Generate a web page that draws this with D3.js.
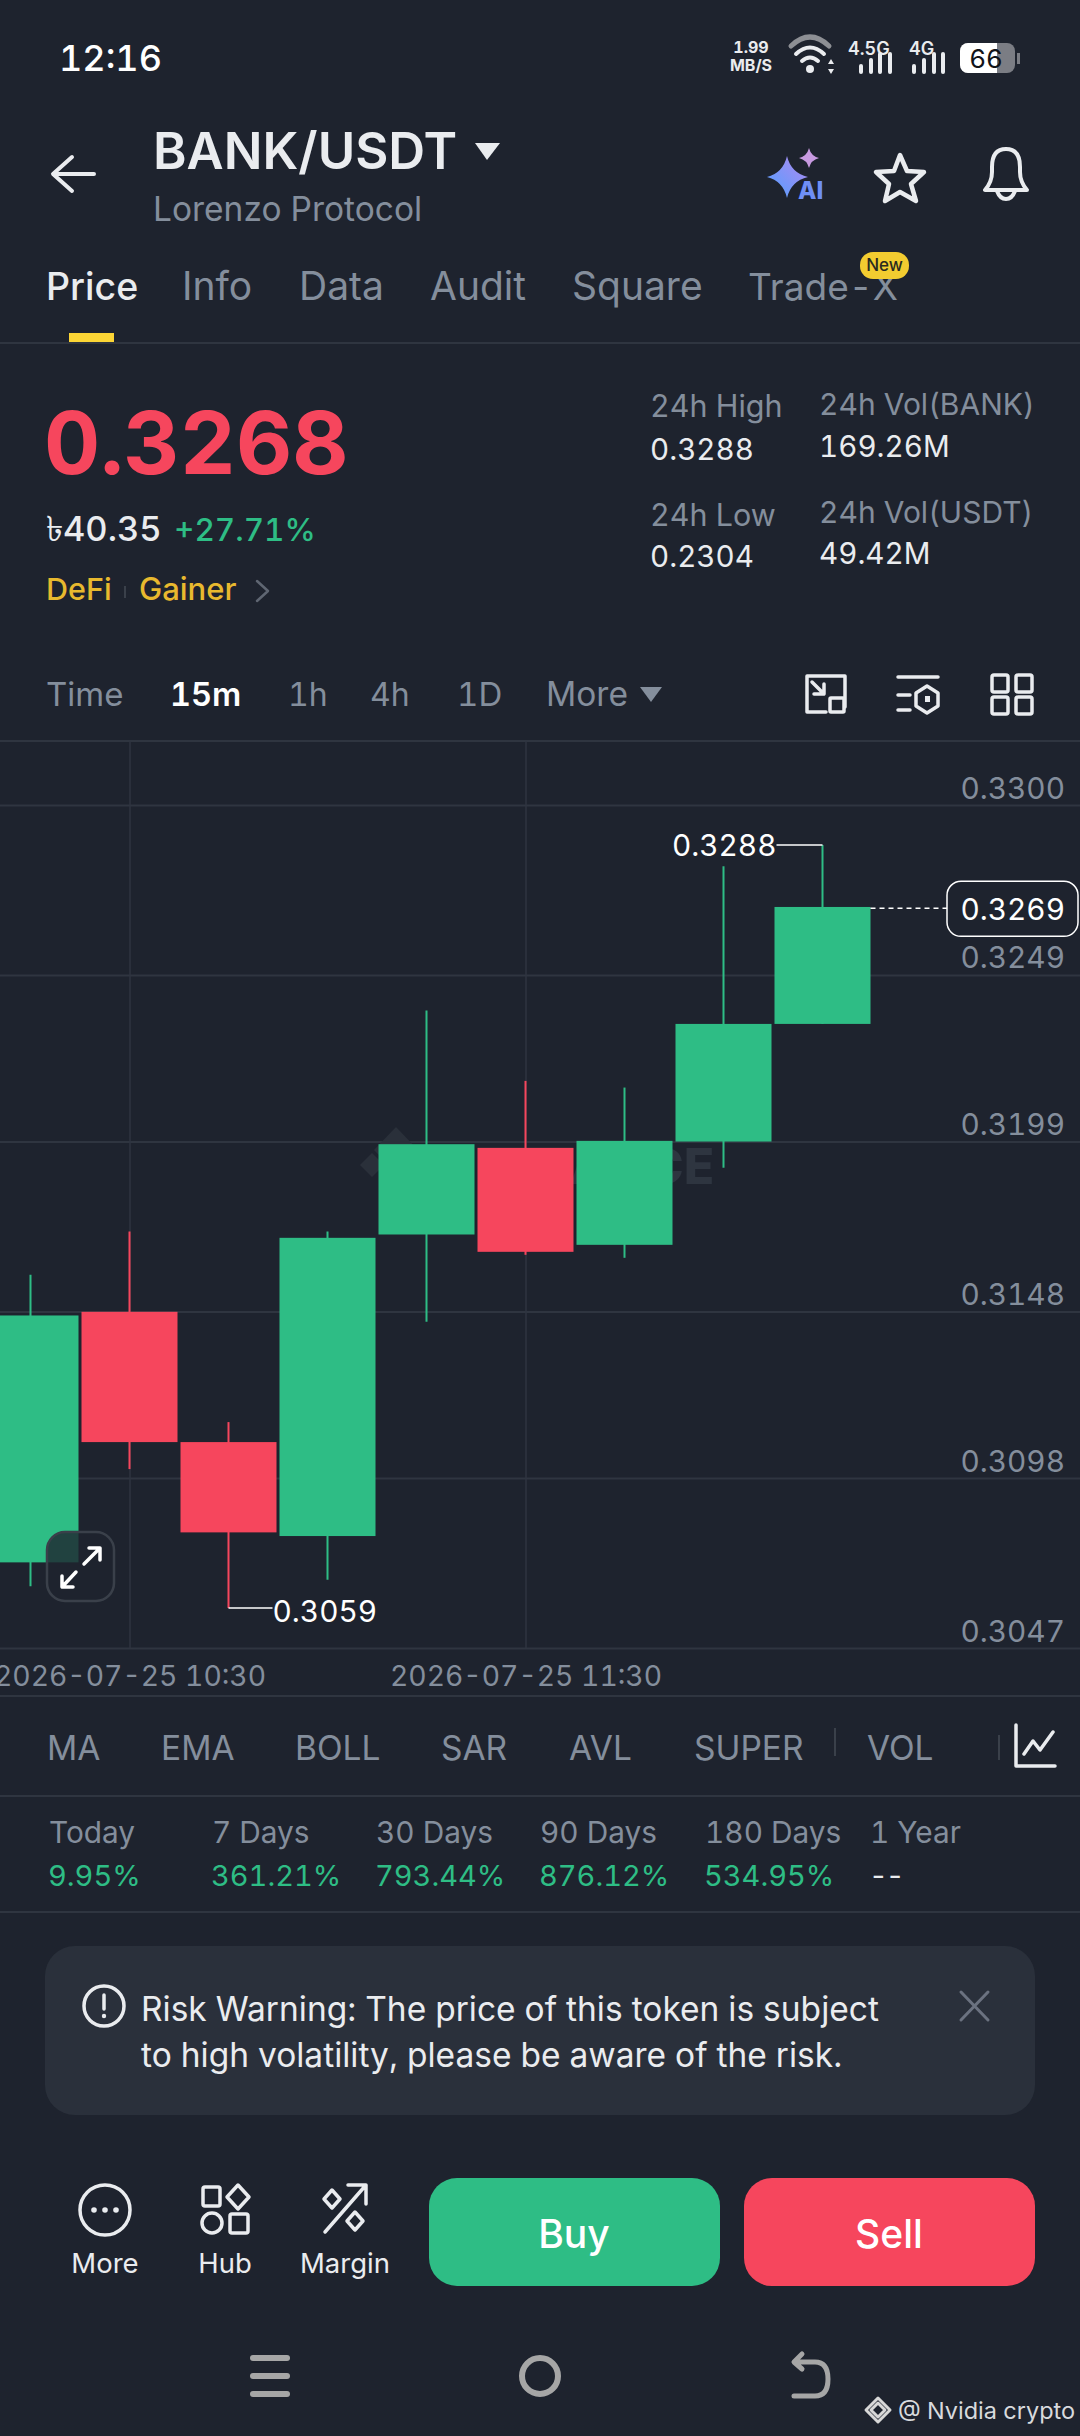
<!DOCTYPE html>
<html>
<head>
<meta charset="utf-8">
<script src="https://cdnjs.cloudflare.com/ajax/libs/d3/7.8.5/d3.min.js"></script>
<style>
  html, body { margin: 0; padding: 0; background: #1e232e; }
  svg { display: block; font-family: Inter, "Noto Sans", sans-serif; font-variant-numeric: tabular-nums; }
</style>
</head>
<body>
<div id="chart"></div>
<script>
// candles (15m)
const times = ["10:15","10:30","10:45","11:00","11:15","11:30","11:45","12:00","12:15"];
const opens  = [0.30727, 0.31479, 0.31088, 0.30806, 0.31711, 0.31971, 0.31680, 0.31990, 0.32343];
const closes = [0.31468, 0.31088, 0.30817, 0.31701, 0.31982, 0.31659, 0.31992, 0.32343, 0.32694];
const highs  = [0.31590, 0.31720, 0.31148, 0.31720, 0.32383, 0.32172, 0.32152, 0.32816, 0.32880];
const lows   = [0.30655, 0.31007, 0.30590, 0.30675, 0.31449, 0.31650, 0.31641, 0.31911, 0.32343];

const priceTicks = [0.3300, 0.3249, 0.3199, 0.3148, 0.3098, 0.3047];
const timeTicks = ["10:30", "11:30"];
const lastPrice = 0.3269;
const highLabel = 0.3288;
const lowLabel = 0.3059;

const tabs = ["Price", "Info", "Data", "Audit", "Square", "Trade-X"];
const intervals = ["Time", "15m", "1h", "4h", "1D", "More"];
const indicators = ["MA", "EMA", "BOLL", "SAR", "AVL", "SUPER", "VOL"];
const periods = ["Today", "7 Days", "30 Days", "90 Days", "180 Days", "1 Year"];
const periodValues = ["9.95%", "361.21%", "793.44%", "876.12%", "534.95%", "--"];

const bg = "#1e232e", green = "#2ebd85", red = "#f6465d", grey = "#848e9c",
      white = "#eaecef", line = "#2f3540", yellow = "#e8b92e";

const svg = d3.select("#chart").append("svg").attr("width", 1080).attr("height", 2436);
svg.append("rect").attr("width", 1080).attr("height", 2436).attr("fill", bg);

function txt(x, y, s, size, fill, opts) {
    opts = opts || {};
    return svg.append("text").attr("x", x).attr("y", y).text(s)
        .attr("font-size", size).attr("fill", fill)
        .attr("font-weight", opts.weight || 400)
        .attr("text-anchor", opts.anchor || "start")
        .attr("letter-spacing", opts.ls || 0);
}
function hline(y) {
    svg.append("line").attr("x1", 0).attr("x2", 1080).attr("y1", y).attr("y2", y)
        .attr("stroke", line).attr("stroke-width", 2);
}
function icon(d, opts) {
    opts = opts || {};
    return svg.append("path").attr("d", d)
        .attr("fill", opts.fill || "none")
        .attr("stroke", opts.stroke || (opts.fill ? "none" : white))
        .attr("stroke-width", opts.sw || 4)
        .attr("stroke-linecap", "round").attr("stroke-linejoin", "round");
}

// status bar
txt(59, 71, "12:16", 36, "#ffffff", {weight: 500});
txt(751, 53, "1.99", 16, white, {weight: 700, anchor: "middle"});
txt(751, 71, "MB/S", 16, white, {weight: 700, anchor: "middle"});
icon("M791 46 Q810 28 829 46", {stroke: "#8d8f94", sw: 5});
icon("M796 54 Q810 41 824 54", {sw: 4});
icon("M802 61 Q810 54 818 61", {sw: 4});
svg.append("circle").attr("cx", 810).attr("cy", 69).attr("r", 4).attr("fill", white);
icon("M828 64 L831 59 L834 64 Z M828 69 L831 74 L834 69 Z", {fill: white});
txt(848, 55, "4.5G", 18, white, {weight: 600});
txt(909, 55, "4G", 18, white, {weight: 600});
[[861,66,72],[871,60,72],[880,54,72],[890,54,72]].forEach(b => icon("M"+b[0]+" "+b[1]+"V"+b[2], {sw: 4}));
[[914,66,72],[924,60,72],[934,54,72],[943,54,72]].forEach(b => icon("M"+b[0]+" "+b[1]+"V"+b[2], {sw: 4}));
svg.append("rect").attr("x", 960).attr("y", 43).attr("width", 55).attr("height", 30).attr("rx", 8).attr("fill", "#7b7d84");
svg.append("path").attr("d", "M968 43H997V73H968a8 8 0 0 1 -8 -8V51a8 8 0 0 1 8 -8Z").attr("fill", "#ffffff");
svg.append("rect").attr("x", 1017).attr("y", 53).attr("width", 3).attr("height", 11).attr("fill", "#7b7d84");
txt(986, 68, "66", 26, "#111318", {anchor: "middle"});

// header
icon("M94 174 H54 M72 157 L53 174 L72 191", {sw: 4});
txt(153, 169, "BANK/USDT", 51, white, {weight: 600});
icon("M475 143 H500 L487 160 Z", {fill: white});
txt(153, 221, "Lorenzo Protocol", 33.5, grey);
const ai = svg.append("defs").append("linearGradient").attr("id", "aiGrad")
    .attr("x1", 0).attr("x2", 1).attr("y1", 1).attr("y2", 0);
ai.append("stop").attr("offset", "0%").attr("stop-color", "#4fa0ff");
ai.append("stop").attr("offset", "100%").attr("stop-color", "#b388f0");
icon("M787 156 Q791 173 808 177 Q791 181 787 198 Q783 181 767 177 Q783 173 787 156Z", {fill: "url(#aiGrad)"});
icon("M809 148 Q811 156 819 158 Q811 160 809 168 Q807 160 799 158 Q807 156 809 148Z", {fill: "#c79ae0"});
txt(798, 199, "AI", 24, "#6f8ff5", {weight: 800});
icon("M900 155 L907 171 L924 172 L911 184 L916 201 L900 192 L885 201 L889 184 L876 172 L894 171 Z", {sw: 4.5});
icon("M985 190 H1027 Q1020 182 1020 172 V167 Q1020 149 1006 149 Q992 149 992 167 V172 Q992 182 985 190 Z M997 191 Q1000 199 1006 199 Q1012 199 1015 191", {sw: 4});

// tabs
const tabX = [46, 182, 299, 430, 572, 748];
const tabSize = [37.5, 39, 39, 39, 39, 37];
tabs.forEach((t, i) => txt(tabX[i], 300, t, tabSize[i], i === 0 ? white : grey, {weight: i === 0 ? 500 : 400}));
svg.append("rect").attr("x", 69).attr("y", 333).attr("width", 45).attr("height", 9).attr("fill", "#fcd535");
svg.append("rect").attr("x", 860).attr("y", 252).attr("width", 49).attr("height", 27).attr("rx", 13).attr("fill", "#f3cc30");
txt(884.5, 271, "New", 17, "#2a2a20", {weight: 500, anchor: "middle"});
hline(343);

// price block
txt(44, 474, "0.3268", 87, red, {weight: 700});
txt(46, 541, "৳40.35", 34.5, white, {weight: 500});
txt(174, 541, "+27.71%", 31.5, green, {weight: 500});
txt(46, 600, "DeFi", 30.5, yellow, {weight: 500});
svg.append("rect").attr("x", 124).attr("y", 586).attr("width", 2).attr("height", 12).attr("fill", "#3a404a");
txt(139, 600, "Gainer", 31, yellow, {weight: 500});
icon("M257 581 L268 591 L257 601", {stroke: "#5f6672", sw: 2.5});

const statL = [[650, 417, "24h High", grey, 30.5], [650, 460, "0.3288", white, 29.6], [650, 526, "24h Low", grey, 30.5], [650, 567, "0.2304", white, 29.6],
    [819, 415, "24h Vol(BANK)", grey, 30], [819, 457, "169.26M", white, 29.6], [819, 523, "24h Vol(USDT)", grey, 30], [819, 564, "49.42M", white, 29.6]];
statL.forEach(s => txt(s[0], s[1], s[2], s[4], s[3]));

// interval row
const intervalX = [46, 170, 288, 370, 457, 546];
const intervalSize = [33, 32.5, 32, 32, 33, 33.5];
intervals.forEach((t, i) => txt(intervalX[i], 706, t, intervalSize[i], i === 1 ? "#ffffff" : grey, {weight: i === 1 ? 600 : 400}));
icon("M640 687 H662 L651 702 Z", {fill: grey});
// layout / settings / grid icons
icon("M845 707 V676 H807 V712 H826 M812 682 L824 694 M824 684 V694 H814", {sw: 3.5});
svg.append("rect").attr("x", 830).attr("y", 698).attr("width", 14).attr("height", 14).attr("rx", 1).attr("fill", "none").attr("stroke", white).attr("stroke-width", 3.5);
icon("M898 677 H938 M898 695 H910 M898 710 H910 M927 686 L938 693 V706 L927 713 L916 706 V693 Z", {sw: 3.5});
svg.append("rect").attr("x", 925).attr("y", 696).attr("width", 5).attr("height", 6).attr("fill", white);
[[992,675],[1016,675],[992,697],[1016,697]].forEach(p =>
    svg.append("rect").attr("x", p[0]).attr("y", p[1]).attr("width", 16).attr("height", 17).attr("rx", 2)
        .attr("fill", "none").attr("stroke", white).attr("stroke-width", 3.5));
hline(741);

// chart
const parseT = d3.timeParse("%Y-%m-%d %H:%M");
const fmtT = d3.timeFormat("%Y-%m-%d %H:%M");
const toDate = t => parseT("2026-07-25 " + t);
const data = times.map((t, i) => ({date: toDate(t), open: opens[i], close: closes[i], high: highs[i], low: lows[i]}));

const x = d3.scaleTime().domain([toDate("10:30"), toDate("11:30")]).range([129.5, 525.5]);
const y = d3.scaleLinear().domain([0.3300, 0.3047]).range([805, 1648]);
const bodyW = 96;

// horizontal grid + right hand labels come from the axis
const yAxis = svg.append("g").attr("transform", "translate(1080,0)")
    .call(d3.axisLeft(y).tickValues(priceTicks).tickSize(1080).tickFormat(d3.format(".4f")))
    .attr("font-family", null).attr("font-size", null);
yAxis.select(".domain").remove();
yAxis.selectAll("line").attr("stroke", line).attr("stroke-width", 2);
yAxis.selectAll("text").attr("x", -15).attr("dy", -7).attr("text-anchor", "end")
    .attr("font-size", 29.8).attr("fill", grey);

const xAxis = svg.append("g").attr("transform", "translate(0,1648)")
    .call(d3.axisBottom(x).tickValues(timeTicks.map(toDate)).tickSize(-907).tickFormat(fmtT))
    .attr("font-family", null).attr("font-size", null);
xAxis.select(".domain").remove();
xAxis.selectAll("line").attr("stroke", line).attr("stroke-width", 1.5);
xAxis.selectAll("text").attr("y", 38).attr("dy", 0).attr("font-size", 28.3).attr("fill", grey);
hline(1696);

// watermark
icon("M396 1127 L418 1150 L396 1173 L374 1150 Z", {fill: "#2a303a"});
icon("M360 1165 L372 1153 L384 1165 L372 1177 Z", {fill: "#2a303a"});
txt(484, 1184, "BINANCE", 50, "#2e3540", {weight: 800});

const candles = svg.append("g").selectAll("g").data(data).join("g");
candles.append("line")
    .attr("x1", d => x(d.date)).attr("x2", d => x(d.date))
    .attr("y1", d => y(d.high)).attr("y2", d => y(d.low))
    .attr("stroke", d => d.close >= d.open ? green : red).attr("stroke-width", 2);
candles.append("rect")
    .attr("x", d => x(d.date) - bodyW / 2).attr("width", bodyW)
    .attr("y", d => y(Math.max(d.open, d.close)))
    .attr("height", d => Math.abs(y(d.open) - y(d.close)))
    .attr("fill", d => d.close >= d.open ? green : red);

// high / low callouts
const hi = data[8], lo = data[2];
svg.append("line").attr("x1", x(hi.date) - 46).attr("x2", x(hi.date)).attr("y1", y(highLabel)).attr("y2", y(highLabel)).attr("stroke", "#fff").attr("stroke-width", 1.5);
txt(x(hi.date) - 46, y(highLabel) + 11, d3.format(".4f")(highLabel), 29.8, "#fff", {anchor: "end"});
svg.append("line").attr("x1", x(lo.date)).attr("x2", x(lo.date) + 44).attr("y1", y(lowLabel)).attr("y2", y(lowLabel)).attr("stroke", "#fff").attr("stroke-width", 1.5);
txt(x(lo.date) + 44, y(lowLabel) + 14, d3.format(".4f")(lowLabel), 29.8, "#fff");

// last price tag
svg.append("line").attr("x1", x(hi.date) + bodyW / 2).attr("x2", 947).attr("y1", y(lastPrice)).attr("y2", y(lastPrice))
    .attr("stroke", "#fff").attr("stroke-width", 1.5).attr("stroke-dasharray", "5,4");
svg.append("rect").attr("x", 947).attr("y", y(lastPrice) - 27).attr("width", 131).attr("height", 55).attr("rx", 14)
    .attr("fill", bg).attr("stroke", "#fff").attr("stroke-width", 1.5);
txt(1065, y(lastPrice) + 12, d3.format(".4f")(lastPrice), 29.8, "#fff", {anchor: "end"});

// expand button
svg.append("rect").attr("x", 47).attr("y", 1532).attr("width", 67).attr("height", 69).attr("rx", 18)
    .attr("fill", "rgba(30,35,46,0.8)").attr("stroke", "#3a404a").attr("stroke-width", 2.5);
icon("M84 1564 L100 1548 M89 1548 H100 V1560 M76 1572 L62 1587 M62 1576 V1587 H73", {stroke: "#fff", sw: 3.5});

// indicator row
const indX = [47, 161, 295, 441, 569, 694, 867];
indicators.forEach((t, i) => txt(indX[i], 1760, t, 33.5, grey));
svg.append("rect").attr("x", 834).attr("y", 1728).attr("width", 2).attr("height", 28).attr("fill", "#3a404a");
svg.append("rect").attr("x", 998).attr("y", 1735).attr("width", 2).attr("height", 25).attr("fill", "#3a404a");
icon("M1016 1725 V1766 H1055 M1024 1754 L1033 1741 L1040 1750 L1053 1732", {stroke: white, sw: 3.5});
hline(1796);

// period returns
const perX = [49, 212, 376, 540, 705, 870];
periods.forEach((t, i) => txt(perX[i], 1843, t, 29.8, grey));
periodValues.forEach((t, i) => txt(perX[i] - 1, 1886, t, 29, t === "--" ? white : green, {ls: t === "--" ? -2 : 0}));
hline(1912);

// risk warning
svg.append("rect").attr("x", 45).attr("y", 1946).attr("width", 990).attr("height", 169).attr("rx", 30).attr("fill", "#2a303b");
svg.append("circle").attr("cx", 104).attr("cy", 2006).attr("r", 20).attr("fill", "none").attr("stroke", white).attr("stroke-width", 3.5);
icon("M104 1995 V2009", {sw: 3.5});
svg.append("circle").attr("cx", 104).attr("cy", 2016).attr("r", 2.2).attr("fill", white);
txt(141, 2021, "Risk Warning: The price of this token is subject", 33.5, white);
txt(141, 2067, "to high volatility, please be aware of the risk.", 33.5, white);
icon("M961 1992 L988 2020 M988 1992 L961 2020", {stroke: "#6b7280", sw: 3});

// bottom actions
svg.append("circle").attr("cx", 105).attr("cy", 2210).attr("r", 25).attr("fill", "none").attr("stroke", white).attr("stroke-width", 3.5);
[94, 105, 116].forEach(cx => svg.append("circle").attr("cx", cx).attr("cy", 2210).attr("r", 2.8).attr("fill", white));
svg.append("rect").attr("x", 203).attr("y", 2187).attr("width", 17).attr("height", 19).attr("rx", 2).attr("fill", "none").attr("stroke", white).attr("stroke-width", 3.5);
icon("M238 2185 L249 2197 L238 2209 L227 2197 Z", {sw: 3.5});
svg.append("ellipse").attr("cx", 212).attr("cy", 2223).attr("rx", 10).attr("ry", 10).attr("fill", "none").attr("stroke", white).attr("stroke-width", 3.5);
svg.append("rect").attr("x", 230).attr("y", 2214).attr("width", 18).attr("height", 19).attr("rx", 2).attr("fill", "none").attr("stroke", white).attr("stroke-width", 3.5);
icon("M325 2232 L366 2185 M348 2185 H366 V2204 M332 2190 L340 2199 L332 2208 L324 2199 Z M355 2212 L363 2221 L355 2230 L347 2221 Z", {sw: 3.5});
[["More", 105], ["Hub", 225], ["Margin", 345]].forEach(b => txt(b[1], 2273, b[0], 27.5, white, {anchor: "middle"}));
svg.append("rect").attr("x", 429).attr("y", 2178).attr("width", 291).attr("height", 108).attr("rx", 28).attr("fill", green);
svg.append("rect").attr("x", 744).attr("y", 2178).attr("width", 291).attr("height", 108).attr("rx", 28).attr("fill", red);
txt(574, 2248, "Buy", 39, "#fff", {weight: 500, anchor: "middle"});
txt(889, 2248, "Sell", 39, "#fff", {weight: 500, anchor: "middle"});

// android nav bar
[2358, 2376, 2394].forEach(yy => icon("M253 " + yy + " H287", {stroke: "#a6a6a6", sw: 6}));
svg.append("ellipse").attr("cx", 540).attr("cy", 2376).attr("rx", 18).attr("ry", 18).attr("fill", "none").attr("stroke", "#a6a6a6").attr("stroke-width", 6);
icon("M802 2354 L794 2362 L802 2369 M795 2362 H815 Q828 2362 828 2379 Q828 2396 815 2396 H794", {stroke: "#a6a6a6", sw: 5});

// watermark bottom right
icon("M878 2403 L885 2410 L878 2417 L871 2410 Z", {sw: 3, stroke: "#d8d8d8"});
icon("M866 2410 L878 2398 L890 2410 L878 2422 Z", {sw: 3, stroke: "#d8d8d8"});
txt(898, 2419, "@ Nvidia crypto", 23.5, "#d8dadd");
</script>
</body>
</html>
